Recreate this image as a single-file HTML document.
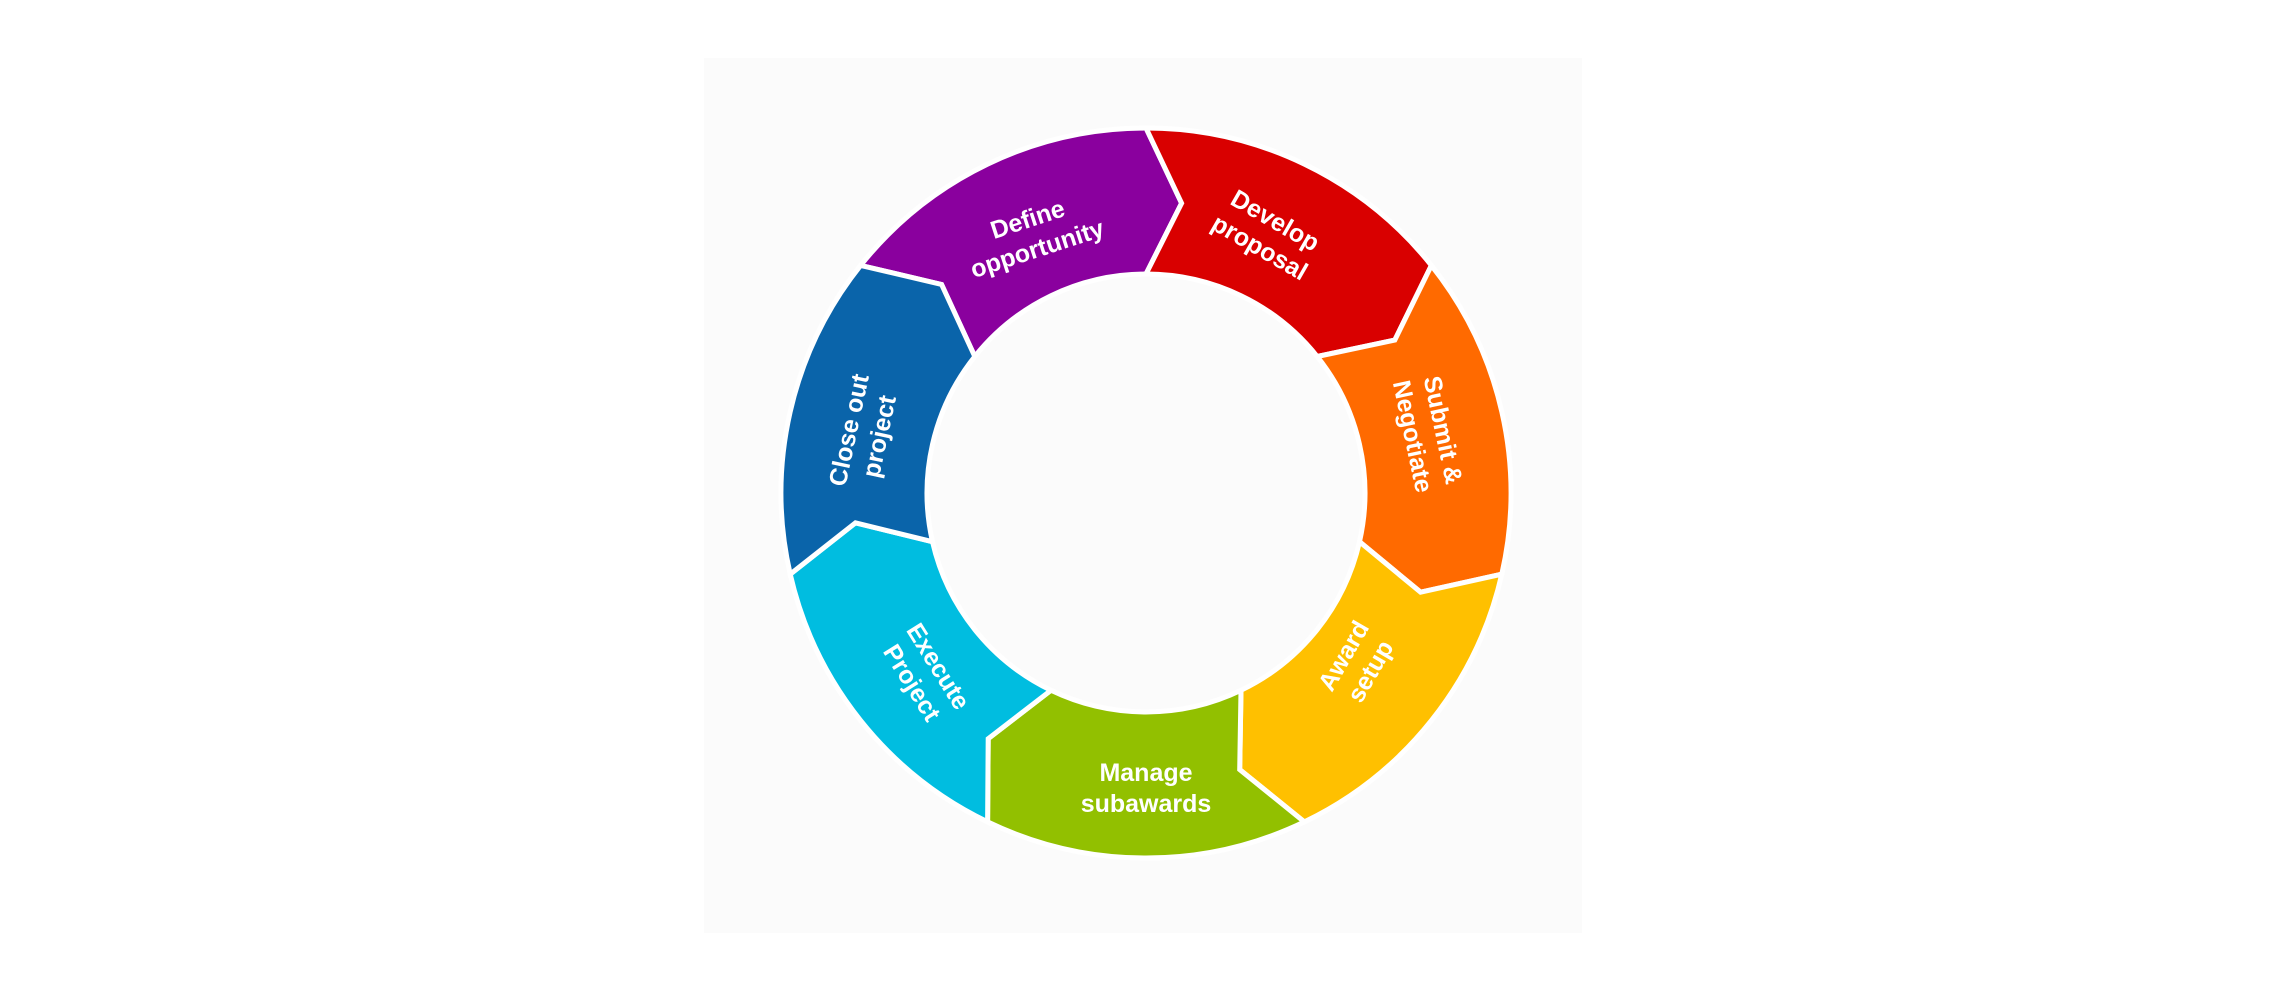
<!DOCTYPE html>
<html><head><meta charset="utf-8"><style>
html,body{margin:0;padding:0;background:#fff;width:2286px;height:990px;overflow:hidden}
svg{display:block}
text{font-family:"Liberation Sans",sans-serif;font-size:25px;font-weight:bold;fill:#fff;text-anchor:middle}
</style></head><body>
<svg id="s" width="2286" height="990" viewBox="0 0 2286 990">
<rect x="704" y="58" width="878" height="875" fill="#fbfbfb"/>
<g id="segs"></g>
<g>
<text transform="translate(1032,233) rotate(-18)"><tspan x="0" y="-6">Define</tspan><tspan x="0" y="25">opportunity</tspan></text>
<text transform="translate(1268,233) rotate(30)"><tspan x="0" y="-6">Develop</tspan><tspan x="0" y="25">proposal</tspan></text>
<text transform="translate(1429,433) rotate(78)"><tspan x="0" y="-6">Submit &amp;</tspan><tspan x="0" y="25">Negotiate</tspan></text>
<text transform="translate(1356,663) rotate(-60)"><tspan x="0" y="-6">Award</tspan><tspan x="0" y="25">setup</tspan></text>
<text transform="translate(1146,787)"><tspan x="0" y="-6">Manage</tspan><tspan x="0" y="25">subawards</tspan></text>
<text transform="translate(926,674) rotate(58)"><tspan x="0" y="-6">Execute</tspan><tspan x="0" y="25">Project</tspan></text>
<text transform="translate(863,433) rotate(-78)"><tspan x="0" y="-6">Close out</tspan><tspan x="0" y="25">project</tspan></text>
</g>
</svg>
<script>
(function(){
var cx=1146,cy=493,Ro=365,Ri=219,Rm=(Ro+Ri)/2,step=360/7,off=7;
var cols=["#8a009e","#d90000","#ff6a00","#ffc000","#92c000","#00bde0","#0a64aa"];
function p(r,a){a=a*Math.PI/180;return (cx+r*Math.sin(a)).toFixed(1)+","+(cy-r*Math.cos(a)).toFixed(1);}
var g=document.getElementById("segs"),h="";
for(var i=0;i<7;i++){
 var a0=-step+i*step,a1=a0+step;
 var d="M"+p(Ro,a0)+" A"+Ro+","+Ro+" 0 0 1 "+p(Ro,a1)+" L"+p(Rm,a1+off)+" L"+p(Ri,a1)+
 " A"+Ri+","+Ri+" 0 0 0 "+p(Ri,a0)+" L"+p(Rm,a0+off)+" Z";
 h+='<path d="'+d+'" fill="'+cols[i]+'" stroke="#fff" stroke-width="5" stroke-linejoin="miter"/>';
}
g.innerHTML=h;
})();
</script>
</body></html>
